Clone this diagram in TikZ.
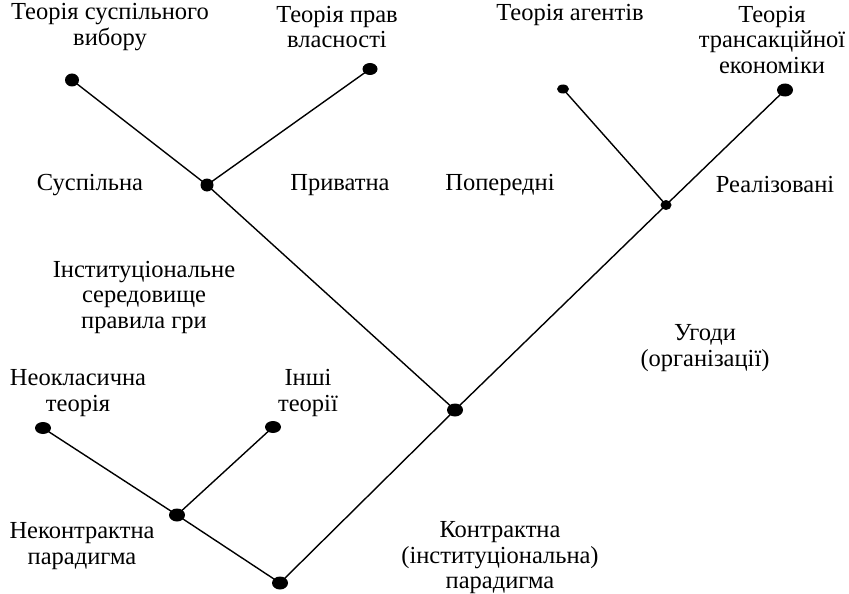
\documentclass[tikz,border=0pt]{standalone}
\usepackage{fontspec}
\setmainfont{Liberation Serif}
\usetikzlibrary{shapes.geometric}
\begin{document}
\begin{tikzpicture}[x=1pt,y=-1pt,
  dot/.style={ellipse,fill=black,inner sep=0pt,minimum width=16pt,minimum height=12pt},
  sdot/.style={ellipse,fill=black,inner sep=0pt,minimum width=12pt,minimum height=9pt},
  lbl/.style={align=center,inner sep=0pt,font=\fontsize{24.5}{25.5}\selectfont},
  ln/.style={line width=1.4pt}]
\useasboundingbox (0,0) rectangle (849,594);
% dots
\node[dot,minimum width=14pt,minimum height=13pt] (A) at (72,80) {};
\node[dot,minimum width=15pt] (B) at (370,69) {};
\node[dot,minimum width=13pt,minimum height=13pt] (C) at (207,185) {};
\node[sdot] (D) at (563,89) {};
\node[dot,minimum height=13pt] (E) at (785,90) {};
\node[sdot,minimum width=11pt,minimum height=10pt] (F) at (666,205) {};
\node[dot,minimum height=13pt] (G) at (455,410) {};
\node[dot] (H) at (43,428) {};
\node[dot] (I) at (273,427) {};
\node[dot,minimum height=13pt] (J) at (177,515) {};
\node[dot,minimum height=13pt] (K) at (280,583) {};
% lines
\draw[ln] (A.center) -- (C.center) -- (G.center);
\draw[ln] (B.center) -- (C.center);
\draw[ln] (D.center) -- (F.center);
\draw[ln] (E.center) -- (F.center) -- (G.center) -- (K.center);
\draw[ln] (H.center) -- (J.center) -- (K.center);
\draw[ln] (I.center) -- (J.center);
% labels
\node[lbl] (t1) at (110,27) {Теорія суспільного\\вибору};
\node[lbl] (t2) at (337,27) {Теорія прав\\власності};
\node[lbl] (t3) at (570,15) {Теорія агентів};
\node[lbl] (t4) at (772,40) {Теорія\\трансакційної\\економіки};
\node[lbl] (s1) at (90,185) {Суспільна};
\node[lbl] (s2) at (340,185) {Приватна};
\node[lbl] (s3) at (500,185) {Попередні};
\node[lbl] (s4) at (775,185) {Реалізовані};
\node[lbl] (m1) at (144,297) {Інституціональне\\середовище\\правила гри};
\node[lbl] (m2) at (705,348) {Угоди\\(організації)};
\node[lbl] (b1) at (78,393) {Неокласична\\теорія};
\node[lbl] (b2) at (308,393) {Інші\\теорії};
\node[lbl] (b3) at (82,546) {Неконтрактна\\парадигма};
\node[lbl] (b4) at (500,558) {Контрактна\\(інституціональна)\\парадигма};
\end{tikzpicture}
\end{document}
